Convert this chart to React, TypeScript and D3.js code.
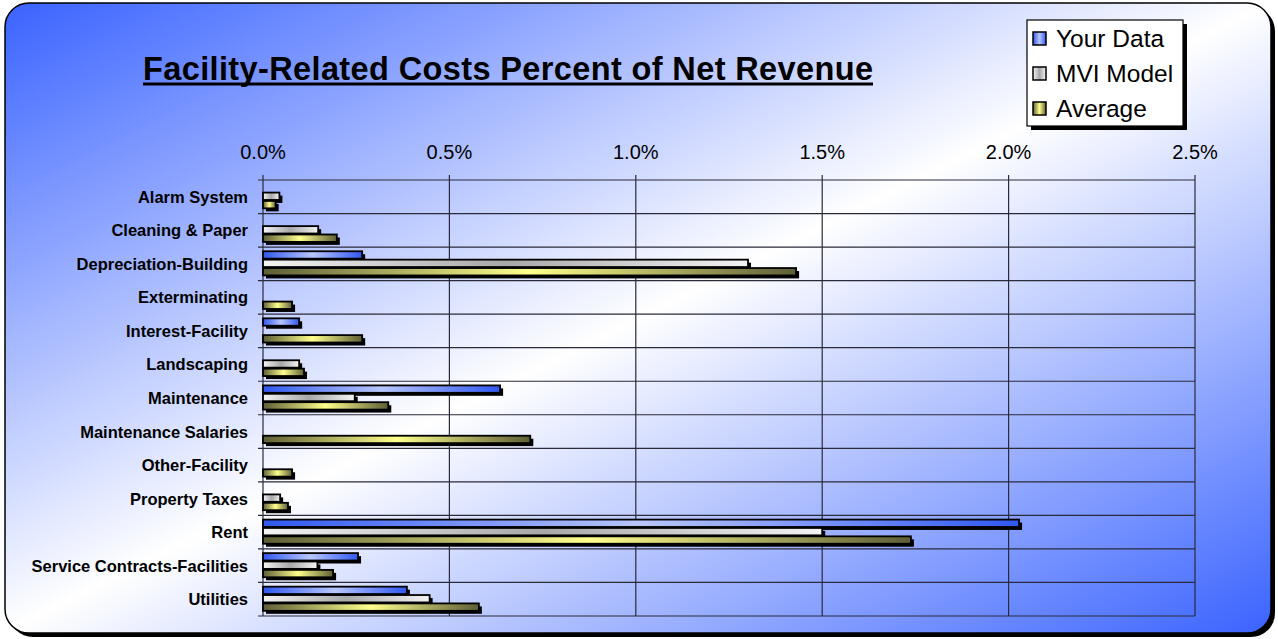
import React from "react";
import { scaleLinear, scaleBand } from "d3";

const categories = [
  "Alarm System",
  "Cleaning & Paper",
  "Depreciation-Building",
  "Exterminating",
  "Interest-Facility",
  "Landscaping",
  "Maintenance",
  "Maintenance Salaries",
  "Other-Facility",
  "Property Taxes",
  "Rent",
  "Service Contracts-Facilities",
  "Utilities",
];

const seriesNames = ["Your Data", "MVI Model", "Average"];

// percent of net revenue
const yourData = [null, null, 0.266, null, 0.097, null, 0.636, null, null, null, 2.028, 0.255, 0.386];
const mviModel = [0.044, 0.148, 1.301, null, null, 0.097, 0.246, null, null, 0.046, 1.5, 0.146, 0.447];
const average = [0.034, 0.198, 1.43, 0.078, 0.266, 0.11, 0.336, 0.717, 0.078, 0.067, 1.738, 0.188, 0.579];

const tickValues = [0, 0.5, 1, 1.5, 2, 2.5];

const W = 1278;
const H = 639;
const FONT = "Liberation Sans, Arial, sans-serif";

const App = () => {
  const x = scaleLinear().domain([0, 2.5]).range([263, 1195]);
  const y = scaleBand().domain(categories).range([180, 616]).padding(0);
  const inner = scaleBand()
    .domain(seriesNames)
    .range([0, y.bandwidth()])
    .paddingInner(0)
    .paddingOuter(0.5);

  const values = [yourData, mviModel, average];
  const fills = ["url(#gBlue)", "url(#gGrey)", "url(#gYellow)"];

  const bars = [];
  categories.forEach((cat, ci) => {
    seriesNames.forEach((s, si) => {
      const v = values[si][ci];
      if (v == null) return;
      bars.push({
        key: cat + s,
        x: x(0),
        y: y(cat) + inner(s),
        w: x(v) - x(0),
        h: inner.bandwidth() - 1,
        fill: fills[si],
      });
    });
  });

  const rowLines = categories.map((c) => y(c)).concat([y.range()[1]]);

  return (
    <div style={{ position: "absolute", left: 0, top: 0 }}>
      <svg width={W} height={H} style={{ display: "block" }}>
        <defs>
          <linearGradient id="bg" x1="0" y1="0" x2="1" y2="1">
            <stop offset="0" stopColor="#3a63ff" />
            <stop offset="0.5" stopColor="#ffffff" />
            <stop offset="1" stopColor="#3a63ff" />
          </linearGradient>
          <linearGradient id="gBlue" x1="0" y1="0" x2="1" y2="0">
            <stop offset="0" stopColor="#3058f0" />
            <stop offset="0.5" stopColor="#b8c6ff" />
            <stop offset="1" stopColor="#3058f0" />
          </linearGradient>
          <linearGradient id="gGrey" x1="0" y1="0" x2="1" y2="0">
            <stop offset="0" stopColor="#f4f4f4" />
            <stop offset="0.5" stopColor="#a8a8a8" />
            <stop offset="1" stopColor="#f4f4f4" />
          </linearGradient>
          <linearGradient id="gYellow" x1="0" y1="0" x2="1" y2="0">
            <stop offset="0" stopColor="#5e5e36" />
            <stop offset="0.5" stopColor="#ffff8c" />
            <stop offset="1" stopColor="#5e5e36" />
          </linearGradient>
        </defs>

        {/* panel */}
        <rect x={9} y={7} width={1266} height={630} rx={24} fill="#000" />
        <rect x={5} y={3} width={1266} height={630} rx={24} fill="url(#bg)" stroke="#000" strokeWidth={1.5} />

        {/* title */}
        <text
          x={143}
          y={80}
          fontFamily={FONT}
          fontWeight="bold"
          fontSize={32.5}
          textLength={730}
          lengthAdjust="spacing"
          fill="#000"
        >
          Facility-Related Costs Percent of Net Revenue
        </text>
        <rect x={143} y={82.5} width={730} height={3} fill="#000" />

        {/* grid */}
        {tickValues.map((t) => (
          <line key={"v" + t} x1={x(t)} x2={x(t)} y1={175} y2={616} stroke="#2a2a3a" strokeWidth={1.2} />
        ))}
        {rowLines.map((yy, i) => (
          <line key={"h" + i} x1={258} x2={x(2.5)} y1={yy} y2={yy} stroke="#2a2a3a" strokeWidth={1.2} />
        ))}
        {tickValues.map((t) => (
          <text
            key={"t" + t}
            x={x(t)}
            y={159}
            textAnchor="middle"
            fontFamily={FONT}
            fontSize={20}
            fill="#000"
          >
            {t.toFixed(1) + "%"}
          </text>
        ))}

        {/* category labels */}
        {categories.map((c) => (
          <text
            key={"c" + c}
            x={248}
            y={y(c) + y.bandwidth() / 2 + 6}
            textAnchor="end"
            fontFamily={FONT}
            fontWeight="bold"
            fontSize={16.5}
            fill="#000"
          >
            {c}
          </text>
        ))}

        {/* shadows then bars */}
        {bars.map((b) => (
          <rect key={"s" + b.key} x={b.x + 3} y={b.y + 3} width={b.w} height={b.h} fill="#000" />
        ))}
        {bars.map((b) => (
          <rect key={"b" + b.key} x={b.x} y={b.y} width={b.w} height={b.h} fill={b.fill} stroke="#000" strokeWidth={1.8} />
        ))}

        {/* legend */}
        <rect x={1031} y={24} width={156} height={106} fill="#000" />
        <rect x={1027} y={20} width={156} height={106} fill="#fff" stroke="#000" strokeWidth={1.2} />
        {seriesNames.map((s, i) => (
          <g key={"l" + s} transform={`translate(1033,${32 + i * 35})`}>
            <rect x={0} y={0} width={13} height={13} fill={fills[i]} stroke="#000" strokeWidth={1.5} />
            <text x={23} y={15} fontFamily={FONT} fontSize={24.5} fill="#000">
              {s}
            </text>
          </g>
        ))}
      </svg>
    </div>
  );
};

export default App;
